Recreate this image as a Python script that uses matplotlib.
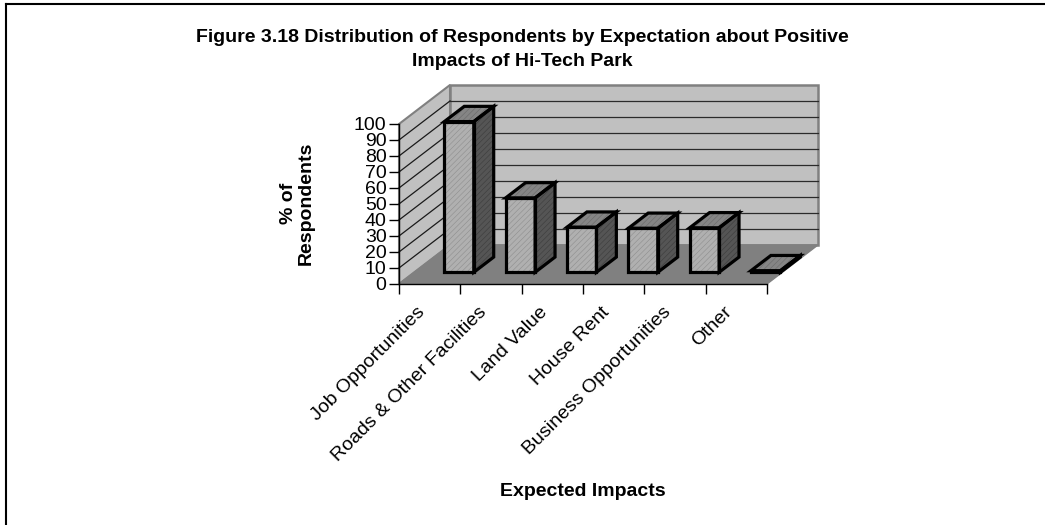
import numpy as np
import matplotlib
matplotlib.use("Agg")
import matplotlib.pyplot as plt
from matplotlib.patches import Polygon
from matplotlib.lines import Line2D
from matplotlib.transforms import ScaledTranslation

plt.rcParams['font.family'] = ['Liberation Sans', 'DejaVu Sans']
plt.rcParams['hatch.linewidth'] = 0.4

# Survey results (% of respondents, multiple answers allowed)
impacts = ["Job Opportunities", "Roads & Other Facilities", "Land Value",
           "House Rent", "Business Opportunities", "Other"]
percent = [94.2, 46.5, 28.2, 27.5, 27.8, 1.0]
y_ticks = list(range(0, 101, 10))

W, H = 1045, 525
fig = plt.figure(figsize=(W / 100, H / 100), dpi=100)

# pixel layout of the plot box: origin of the front axes and scale
ox, oy = 399, 284          # category 0 / value 0 (px from top-left)
cat_px, val_px = 61.33, 1.6
xlim = (-0.3, 7.0)
ylim = (-8, 128)
left = ox + xlim[0] * cat_px
bottom = oy - ylim[0] * val_px
ax = fig.add_axes([left / W, (H - bottom) / H,
                   (xlim[1] - xlim[0]) * cat_px / W,
                   (ylim[1] - ylim[0]) * val_px / H])
ax.set_xlim(*xlim)
ax.set_ylim(*ylim)
ax.patch.set_visible(False)

n = len(impacts)
Dx, Dy = 0.832, 24.4        # oblique depth offset of the floor
f0, f1 = 0.30, 0.69         # depth range occupied by the columns
bar_off, bar_w = 0.49, 0.48

# walls and floor
left_wall = Polygon([(0, 0), (0, 100), (Dx, 100 + Dy), (Dx, Dy)],
                    closed=True, fc='#c0c0c0', ec='#808080', lw=1.5, zorder=1)
back_wall = Polygon([(Dx, Dy), (Dx, 100 + Dy), (n + Dx, 100 + Dy), (n + Dx, Dy)],
                    closed=True, fc='#c0c0c0', ec='#808080', lw=1.8, zorder=1)
floor = Polygon([(0, 0), (n, 0), (n + Dx, Dy), (Dx, Dy)],
                closed=True, fc='#808080', ec='#808080', lw=1, zorder=3)
for p in (left_wall, back_wall, floor):
    ax.add_patch(p)

for v in y_ticks[1:-1]:
    ax.plot([0, Dx], [v, v + Dy], color='#1a1a1a', lw=0.9, zorder=2)
    ax.plot([Dx, n + Dx], [v + Dy, v + Dy], color='#2a2a2a', lw=0.9, zorder=2)


def face(pts, fc, hc, z):
    ax.add_patch(Polygon(pts, closed=True, fc=fc, ec=hc, lw=0,
                         hatch='//////', zorder=z))
    ax.add_patch(Polygon(pts, closed=True, fill=False, ec='black',
                         lw=2.3, joinstyle='miter', zorder=z + 0.1))


# 3-D columns
for i, v in enumerate(percent):
    x0 = i + bar_off
    x1 = x0 + bar_w
    sx0, sy0 = f0 * Dx, f0 * Dy
    sx1, sy1 = f1 * Dx, f1 * Dy
    z = 5 + i
    front = [(x0 + sx0, sy0), (x1 + sx0, sy0), (x1 + sx0, sy0 + v), (x0 + sx0, sy0 + v)]
    side = [(x1 + sx0, sy0), (x1 + sx1, sy1), (x1 + sx1, sy1 + v), (x1 + sx0, sy0 + v)]
    top = [(x0 + sx0, sy0 + v), (x1 + sx0, sy0 + v), (x1 + sx1, sy1 + v), (x0 + sx1, sy1 + v)]
    face(side, '#555555', '#3c3c3c', z)
    face(top, '#858585', '#6a6a6a', z)
    face(front, '#b0b0b0', '#8e8e8e', z)

# axes lines and ticks
for s in ('top', 'right'):
    ax.spines[s].set_visible(False)
ax.spines['left'].set_position(('data', 0))
ax.spines['left'].set_bounds(0, 100)
ax.spines['bottom'].set_position(('data', 0))
ax.spines['bottom'].set_bounds(0, n)
for s in ('left', 'bottom'):
    ax.spines[s].set_linewidth(1)
    ax.spines[s].set_zorder(4)

ax.set_yticks(y_ticks)
ax.set_yticklabels([str(t) for t in y_ticks], fontsize=14)
ax.set_xticks(np.arange(n + 1))
ax.set_xticklabels([])
ax.set_xticks(np.arange(n) + 0.5, impacts, minor=True)
ax.tick_params(axis='both', which='major', direction='out', length=7, width=1, pad=2)
ax.tick_params(axis='x', which='minor', length=0, pad=14, labelsize=14)
shift = ScaledTranslation(-0.13, 0, fig.dpi_scale_trans)
for lab in ax.get_xticklabels(minor=True):
    lab.set_rotation(45)
    lab.set_ha('right')
    lab.set_rotation_mode('anchor')
    lab.set_transform(lab.get_transform() + shift)

# titles
fig.text(522 / W, 1 - 38 / H, "Figure 3.18 Distribution of Respondents by Expectation about Positive",
         ha='center', va='center', fontsize=14, fontweight='bold')
fig.text(522 / W, 1 - 62 / H, "Impacts of Hi-Tech Park",
         ha='center', va='center', fontsize=14, fontweight='bold')
fig.text(297 / W, 1 - 203 / H, "% of\nRespondents", rotation=90,
         ha='center', va='center', fontsize=14, fontweight='bold',
         multialignment='center', linespacing=1.05)
fig.text(583 / W, 1 - 491 / H, "Expected Impacts", ha='center', va='center',
         fontsize=14, fontweight='bold')

# chart area border (top and left edges)
fig.add_artist(Line2D([6 / W, 6 / W], [0, 1 - 4 / H], color='black', lw=1.5))
fig.add_artist(Line2D([6 / W, 1], [1 - 4 / H, 1 - 4 / H], color='black', lw=1.5))

fig.savefig("out.png", dpi=100)
